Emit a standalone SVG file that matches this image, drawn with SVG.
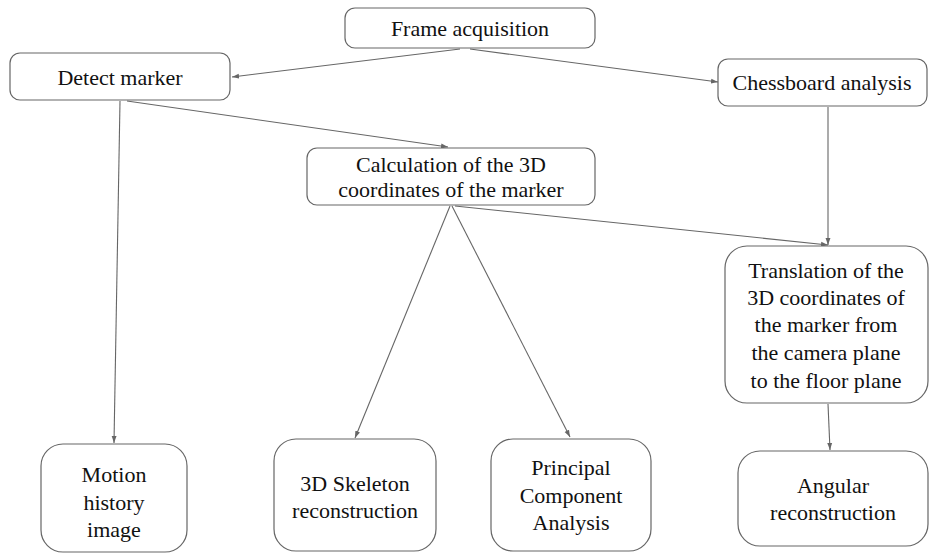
<svg xmlns="http://www.w3.org/2000/svg" width="929" height="553" viewBox="0 0 929 553">
<defs>
<marker id="arr" viewBox="0 0 10 10" refX="10" refY="5" markerWidth="7" markerHeight="7" orient="auto" markerUnits="userSpaceOnUse">
<path d="M0,1.5 L10,5 L0,8.5 z" fill="#666"/>
</marker>
<style>
.box{fill:#fff;stroke:#666;stroke-width:1.2}
.t{font-family:"Liberation Serif","Times New Roman",serif;font-size:22px;fill:#111;text-anchor:middle}
.c{stroke:#666;stroke-width:1.1;fill:none;marker-end:url(#arr)}
</style>
</defs>
<rect width="929" height="553" fill="#fff"/>
<g id="connectors">
<line class="c" x1="460" y1="49" x2="232" y2="77"/>
<line class="c" x1="470" y1="49" x2="718" y2="82"/>
<line class="c" x1="120" y1="101" x2="114" y2="443"/>
<line class="c" x1="127" y1="101" x2="448" y2="147"/>
<line class="c" x1="450" y1="206" x2="355" y2="438"/>
<line class="c" x1="452" y1="206" x2="570" y2="437"/>
<line class="c" x1="455" y1="206" x2="828" y2="245"/>
<line class="c" x1="828" y1="107" x2="828" y2="245"/>
<line class="c" x1="828" y1="404" x2="830" y2="450"/>
</g>
<g id="frame">
<rect class="box" x="345" y="8" width="250" height="40" rx="10"/>
<text class="t" x="470" y="36">Frame acquisition</text>
</g>
<g id="detect">
<rect class="box" x="10" y="53" width="220" height="47" rx="10"/>
<text class="t" x="120" y="85">Detect marker</text>
</g>
<g id="chessboard">
<rect class="box" x="718" y="59" width="209" height="47" rx="10"/>
<text class="t" x="822" y="90">Chessboard analysis</text>
</g>
<g id="calculation">
<rect class="box" x="307" y="148" width="288" height="57" rx="10"/>
<text class="t" x="451" y="172">Calculation of the 3D</text>
<text class="t" x="451" y="197">coordinates of the marker</text>
</g>
<g id="translation">
<rect class="box" x="725" y="246" width="203" height="157" rx="22"/>
<text class="t" x="826" y="278">Translation of the</text>
<text class="t" x="826" y="305">3D coordinates of</text>
<text class="t" x="826" y="332">the marker from</text>
<text class="t" x="826" y="360">the camera plane</text>
<text class="t" x="826" y="388">to the floor plane</text>
</g>
<g id="motion">
<rect class="box" x="41" y="444" width="146" height="108" rx="22"/>
<text class="t" x="114" y="482">Motion</text>
<text class="t" x="114" y="510">history</text>
<text class="t" x="114" y="537">image</text>
</g>
<g id="skeleton">
<rect class="box" x="274" y="439" width="162" height="112" rx="22"/>
<text class="t" x="355" y="491">3D Skeleton</text>
<text class="t" x="355" y="518">reconstruction</text>
</g>
<g id="pca">
<rect class="box" x="491" y="439" width="160" height="112" rx="22"/>
<text class="t" x="571" y="475">Principal</text>
<text class="t" x="571" y="503">Component</text>
<text class="t" x="571" y="530">Analysis</text>
</g>
<g id="angular">
<rect class="box" x="738" y="451" width="190" height="95" rx="22"/>
<text class="t" x="833" y="493">Angular</text>
<text class="t" x="833" y="520">reconstruction</text>
</g>
</svg>
